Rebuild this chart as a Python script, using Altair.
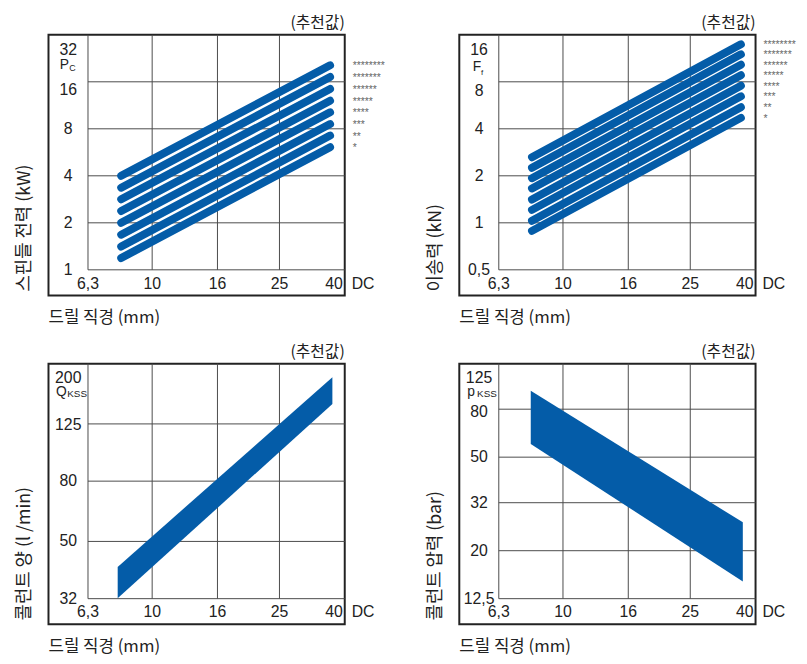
import altair as alt
import pandas as pd

FONT = "Liberation Sans, Noto Sans CJK KR"
KFONT = "Noto Sans CJK KR"
BLUE = "#045ca8"
GRID = "#4a4a4a"
INK = "#222222"

W, H = 300, 264
X0 = 40      # pixel of the 6,3 axis inside the box
YB = 238     # pixel of the bottom axis inside the box

# ---------------- data ----------------
x_ticks = [6.3, 10, 16, 25, 40]
x_tick_labels = ["6,3", "10", "16", "25", "40"]

dc_line = [8, 36]
stars = ["*", "**", "***", "****", "*****", "******", "*******", "********"]

# spindle power Pc (kW)
pc_ticks = [1, 2, 4, 8, 16, 32]
pc_labels = ["1", "2", "4", "8", "16", "32"]
pc_start = [1.19, 1.41, 1.68, 2.0, 2.38, 2.83, 3.36, 4.0]
pc_end = [6.1, 7.24, 8.58, 10.2, 12.1, 14.4, 17.2, 20.4]

# feed force Ff (kN)
ff_ticks = [0.5, 1, 2, 4, 8, 16]
ff_labels = ["0,5", "1", "2", "4", "8", "16"]
ff_start = [0.888, 1.03, 1.21, 1.41, 1.66, 1.93, 2.25, 2.63]
ff_end = [4.70, 5.50, 6.46, 7.55, 8.82, 10.3, 12.0, 13.9]

# coolant flow Qkss (l/min)
q_ticks = [32, 50, 80, 125, 200]
q_labels = ["32", "50", "80", "125", "200"]
q_dc = [7.8, 36.6]
q_top = [41, 180]
q_bot = [32.1, 146]

# coolant pressure pkss (bar)
p_ticks = [12.5, 20, 32, 50, 80, 125]
p_labels = ["12,5", "20", "32", "50", "80", "125"]
p_dc = [7.93, 36.5]
p_top = [95.9, 26.4]
p_bot = [56.9, 14.8]

x_title = "드릴 직경 (mm)"
note = "(추천값)"


def xs():
    return alt.Scale(type="log", domain=[x_ticks[0], x_ticks[-1]], range=[X0, W])


def ys(ticks):
    return alt.Scale(type="log", domain=[ticks[0], ticks[-1]], range=[YB, 0])


def txt(**kw):
    base = dict(font=FONT, color=INK, fontSize=16, baseline="middle")
    base.update(kw)
    return base


def panel(ticks, labels, second_dy, sym, sub, sym_pos, sub_pos, ytitle, marks):
    xsc, ysc = xs(), ys(ticks)
    X = lambda f: alt.X(f, scale=xsc, axis=None)
    Y = lambda f: alt.Y(f, scale=ysc, axis=None)

    hdf = pd.DataFrame({"y": ticks[:-1], "x1": x_ticks[0], "x2": x_ticks[-1]})
    vdf = pd.DataFrame({"x": x_ticks[:-1], "y1": ticks[0], "y2": ticks[-1]})
    hgrid = alt.Chart(hdf).mark_rule(color=GRID, strokeWidth=1).encode(
        x=X("x1:Q"), x2="x2:Q", y=Y("y:Q"))
    vgrid = alt.Chart(vdf).mark_rule(color=GRID, strokeWidth=1).encode(
        x=X("x:Q"), y=Y("y1:Q"), y2="y2:Q")

    xl = pd.DataFrame({"x": x_ticks, "t": x_tick_labels, "y": ticks[0]})
    xlab = alt.Chart(xl.iloc[:-1]).mark_text(**txt(align="center", dy=14)).encode(
        x=X("x:Q"), y=Y("y:Q"), text="t:N")
    xlast = alt.Chart(xl.iloc[-1:]).mark_text(**txt(align="right", dx=-2, dy=14)).encode(
        x=X("x:Q"), y=Y("y:Q"), text="t:N")
    dc = alt.Chart(xl.iloc[-1:]).mark_text(**txt(align="left", dx=7, dy=14, text="DC")).encode(
        x=X("x:Q"), y=Y("y:Q"))

    yl = pd.DataFrame({"y": ticks, "t": labels, "x": x_ticks[0]})
    ylab = alt.Chart(yl.iloc[:-2]).mark_text(**txt(align="center", dx=-20)).encode(
        x=X("x:Q"), y=Y("y:Q"), text="t:N")
    ysec = alt.Chart(yl.iloc[-2:-1]).mark_text(**txt(align="center", dx=-20, dy=second_dy)).encode(
        x=X("x:Q"), y=Y("y:Q"), text="t:N")
    ytop = alt.Chart(yl.iloc[-1:]).mark_text(**txt(align="center", dx=-20, dy=15)).encode(
        x=X("x:Q"), y=Y("y:Q"), text="t:N")
    symb = alt.Chart(yl.iloc[-1:]).mark_text(
        **txt(align="center", fontSize=sym_pos[2], text=sym, dx=sym_pos[0], dy=sym_pos[1])).encode(
        x=X("x:Q"), y=Y("y:Q"))
    subs = alt.Chart(yl.iloc[-1:]).mark_text(
        **txt(align="left", fontSize=sub_pos[2], text=sub, dx=sub_pos[0], dy=sub_pos[1])).encode(
        x=X("x:Q"), y=Y("y:Q"))

    nd = pd.DataFrame({"x": [x_ticks[-1]], "y": [ticks[-1]], "t": [note]})
    notel = alt.Chart(nd).mark_text(**txt(font=KFONT, align="right", fontSize=16, dy=-12)).encode(
        x=X("x:Q"), y=Y("y:Q"), text="t:N")

    td = pd.DataFrame({"yt": [ytitle], "xt": [x_title]})
    ytl = alt.Chart(td).mark_text(**txt(font=KFONT, align="left", angle=270, fontSize=18)).encode(
        x=alt.value(-24), y=alt.value(260), text="yt:N")
    xtl = alt.Chart(td).mark_text(**txt(font=KFONT, align="left", fontSize=17)).encode(
        x=alt.value(0), y=alt.value(287), text="xt:N")

    layers = [hgrid, vgrid] + [m(X, Y) for m in marks] + [
        xlab, xlast, dc, ylab, ysec, ytop, symb, subs, notel, ytl, xtl]
    return alt.layer(*layers).properties(width=W, height=H)


def lines(start, end):
    df = pd.DataFrame({
        "s": stars + stars,
        "d": [dc_line[0]] * len(stars) + [dc_line[1]] * len(stars),
        "v": start + end,
    })
    leg = pd.DataFrame({"s": stars, "v": end, "d": x_ticks[-1]})

    def mk_line(X, Y):
        return alt.Chart(df).mark_line(strokeWidth=8, strokeCap="round", color=BLUE).encode(
            x=X("d:Q"), y=Y("v:Q"), detail="s:N")

    def mk_leg(X, Y):
        return alt.Chart(leg).mark_text(
            font=FONT, fontSize=10.5, color="#666666", align="left", baseline="middle",
            dx=8, dy=1).encode(x=X("d:Q"), y=Y("v:Q"), text="s:N")
    return [mk_line, mk_leg]


def band(dcv, top, bot):
    df = pd.DataFrame({"d": dcv, "top": top, "bot": bot})

    def mk(X, Y):
        return alt.Chart(df).mark_area(color=BLUE, opacity=1).encode(
            x=X("d:Q"), y=Y("top:Q"), y2="bot:Q")
    return [mk]


p1 = panel(pc_ticks, pc_labels, 8, "P", "C", (-24, 31, 14), (-19, 34, 9),
           "스핀들 전력 (kW)", lines(pc_start, pc_end))
p2 = panel(ff_ticks, ff_labels, 9, "F", "f", (-22, 33, 14), (-18, 39, 8),
           "이송력 (kN)", lines(ff_start, ff_end))
p3 = panel(q_ticks, q_labels, 1, "Q", "KSS", (-27, 29, 14), (-21, 31, 10),
           "콜런트 양 (l /min)", band(q_dc, q_top, q_bot))
p4 = panel(p_ticks, p_labels, 3, "p", "KSS", (-28, 29, 14), (-22, 31, 10),
           "콜런트 압력  (bar)", band(p_dc, p_top, p_bot))

chart = alt.concat(
    p1, p2, p3, p4, columns=2, bounds="flush",
    spacing={"row": 69, "column": 116},
).properties(
    padding={"left": 6, "top": 2, "right": 2, "bottom": 2}
).configure_view(stroke="#222222", strokeWidth=2)

chart.save("out.html", embed_options={"renderer": "svg", "actions": False})
